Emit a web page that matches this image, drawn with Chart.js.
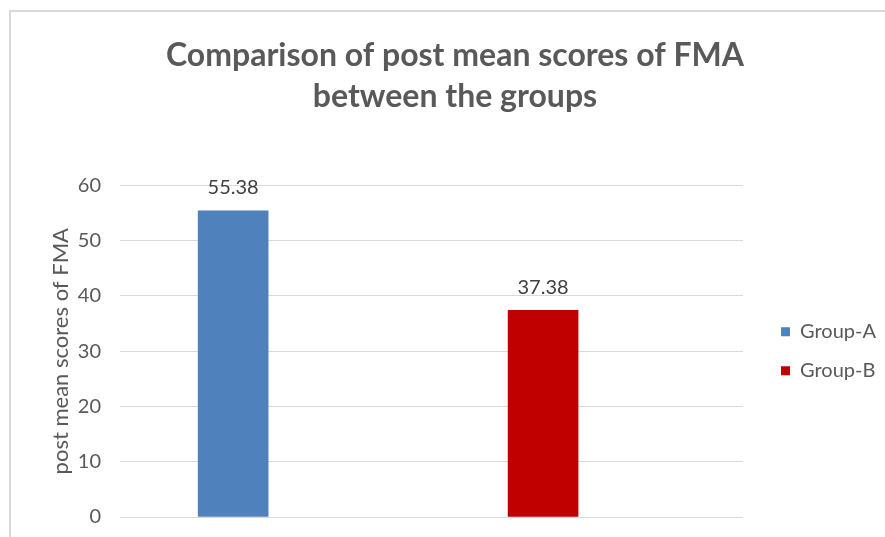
<!DOCTYPE html>
<html>
<head>
<meta charset="utf-8">
<script src="https://cdn.jsdelivr.net/npm/chart.js@4.4.0/dist/chart.umd.min.js"></script>
<style>
  html, body { margin: 0; padding: 0; background: #fff; }
  #wrap { width: 885px; height: 537px; }
</style>
</head>
<body>
<div id="wrap"><canvas id="chart" width="885" height="537"></canvas></div>
<script>
// values
const groups = ["Group-A", "Group-B"];
const postMeans = [55.38, 37.38];
const groupColors = ["#4f81bd", "#c00000"];
const yMin = 0, yMax = 60, yStep = 10;

const FONT = "Lato";
const legendFontSize = 20;
const legendPad = 19;
const legendBox = 9;

// size the right padding so the plot area ends where the reference gridlines end
const measure = document.createElement("canvas").getContext("2d");
measure.font = legendFontSize + "px " + FONT;
const legendTextW = Math.max(...groups.map(g => measure.measureText(g).width));
const legendW = legendPad + legendBox + legendFontSize / 2 + legendTextW + 10;
const plotRight = 743, legendLeft = 781 - legendPad;
const gapW = legendLeft - plotRight;
const padRight = 885 - legendLeft - legendW;
const padLeft = 24;

// light frame round the chart, like the cropped Excel chart border
const frame = {
  id: "frame",
  beforeDraw(chart) {
    const { ctx, width, height } = chart;
    ctx.save();
    ctx.fillStyle = "#fff";
    ctx.fillRect(0, 0, width, height);
    ctx.strokeStyle = "#d9d9d9";
    ctx.lineWidth = 2;
    ctx.beginPath();
    ctx.moveTo(10, height);
    ctx.lineTo(10, 11);
    ctx.lineTo(width, 11);
    ctx.stroke();
    ctx.restore();
  }
};

// value labels above the bars
const valueLabels = {
  id: "valueLabels",
  afterDatasetsDraw(chart) {
    const { ctx } = chart;
    ctx.save();
    ctx.font = "20px " + FONT;
    ctx.fillStyle = "#404040";
    ctx.textAlign = "center";
    ctx.textBaseline = "middle";
    chart.data.datasets.forEach((ds, i) => {
      chart.getDatasetMeta(i).data.forEach((bar, j) => {
        ctx.fillText(ds.data[j].y.toFixed(2), bar.x, bar.y - 23);
      });
    });
    ctx.restore();
  }
};

const ctx = document.getElementById("chart").getContext("2d");

new Chart(ctx, {
  type: "bar",
  data: {
    datasets: groups.map((g, i) => ({
      label: g,
      data: [{ x: i, y: postMeans[i] }],
      backgroundColor: groupColors[i],
      barThickness: 70,
      grouped: false
    }))
  },
  options: {
    responsive: false,
    animation: false,
    layout: { padding: { left: padLeft, right: padRight, top: 0, bottom: 20 } },
    scales: {
      x: { type: "linear", min: -0.365, max: 1.645, offset: false, display: false },
      y: {
        min: yMin,
        max: yMax,
        ticks: { stepSize: yStep, padding: 0, color: "#595959", font: { family: FONT, size: 20 } },
        grid: { color: "#d9d9d9", drawTicks: true, tickLength: 19, tickColor: "rgba(0,0,0,0)" },
        border: { display: false },
        title: {
          display: true,
          text: "post mean scores of FMA",
          color: "#595959",
          font: { family: FONT, size: 22 },
          padding: { top: 24, bottom: 0 }
        },
        afterFit: s => { s.width = 120 - padLeft; }
      },
      gap: {
        type: "linear",
        position: "right",
        grid: { display: false },
        border: { display: false },
        ticks: { display: false },
        afterFit: s => { s.width = gapW; }
      }
    },
    plugins: {
      title: {
        display: true,
        text: ["Comparison of post mean scores of FMA", "between the groups"],
        color: "#595959",
        font: { family: FONT, size: 32, weight: "bold", lineHeight: 1.28 },
        padding: { top: 35.5, bottom: 68 }
      },
      legend: {
        position: "right",
        fullSize: false,
        labels: {
          boxWidth: legendBox,
          boxHeight: legendBox,
          padding: legendPad,
          color: "#595959",
          font: { family: FONT, size: legendFontSize }
        }
      },
      tooltip: { enabled: false }
    }
  },
  plugins: [frame, valueLabels]
});
</script>
</body>
</html>
